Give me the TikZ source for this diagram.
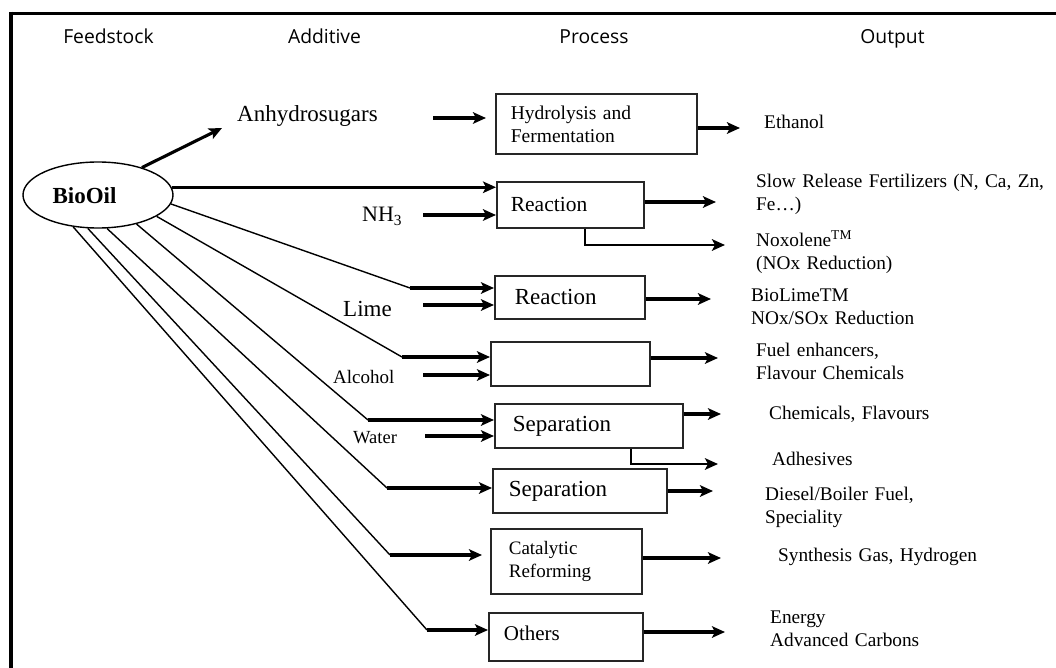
\documentclass[tikz,border=0pt]{standalone}
\usepackage{fontspec}
\setmainfont{Liberation Serif}
\newfontfamily\hdrsans{Open Sans}
\usetikzlibrary{arrows.meta,shapes.geometric}
\tikzset{
  hdr/.style={anchor=base, inner sep=0pt, font=\hdrsans\fontsize{19.3}{23}\selectfont},
  outtxt/.style={anchor=base west, inner sep=0pt, align=left, text width=290pt, font=\fontsize{19.3}{23}\selectfont},
  addtxt/.style={anchor=base west, inner sep=0pt},
  pbox/.style={draw=black!85, line width=1.7pt, anchor=north west, inner ysep=0pt, align=left},
  thinln/.style={line width=1.4pt},
  arr/.style={line width=3.1pt, -{Stealth[length=13pt,width=11.5pt,inset=3pt]}},
  brarr/.style={line width=2.6pt, -{Stealth[length=13pt,width=11.5pt,inset=3pt]}},
}
\begin{document}
\begin{tikzpicture}[x=1pt,y=-1pt]
\useasboundingbox (0,0) rectangle (1056,668);
% frame
\draw[line width=3.8pt] (9,13.5) -- (1056,13.5);
\draw[line width=3.8pt] (11,11.6) -- (11,668);

% headers
\node[hdr] (hfeed) at (108.5,44) {Feedstock};
\node[hdr] (hadd) at (324.5,44) {Additive};
\node[hdr] (hproc) at (594,44) {Process};
\node[hdr] (hout) at (892.5,44) {Output};

% feedstock
\node[ellipse, draw, line width=1.4pt, minimum width=150pt, minimum height=66pt, inner sep=0pt] (bio) at (98,195) {};
\node[anchor=base, inner sep=0pt, font=\bfseries\fontsize{23}{26}\selectfont] (biot) at (84.5,204) {BioOil};

% additives
\node[addtxt, font=\fontsize{23}{26}\selectfont] (anh) at (237,122) {Anhydrosugars};
\node[addtxt, font=\fontsize{22}{25}\selectfont] (nh3) at (362,222) {NH\textsubscript{3}};
\node[addtxt, font=\fontsize{23}{26}\selectfont] (lime) at (343,316) {Lime};
\node[addtxt, font=\fontsize{19}{22}\selectfont] (alc) at (333,383) {Alcohol};
\node[addtxt, font=\fontsize{18.5}{22}\selectfont] (wat) at (353,443) {Water};

% process boxes
\node[pbox, inner xsep=15pt, text width=171pt, minimum height=60pt, font=\fontsize{19.5}{23}\selectfont] (hyd) at (495,93) {Hydrolysis and\\Fermentation};
\node[pbox, inner xsep=14pt, text width=119pt, minimum height=46pt, font=\fontsize{21.5}{24}\selectfont] (r1) at (496,181) {Reaction};
\node[pbox, inner xsep=20pt, text width=110pt, minimum height=43pt, font=\fontsize{23}{26}\selectfont] (r2) at (494,275) {Reaction};
\node[pbox, minimum width=159pt, minimum height=44pt] (blk) at (490,341) {};
\node[pbox, inner xsep=18pt, text width=152pt, minimum height=44pt, font=\fontsize{23}{26}\selectfont] (s1) at (494,403) {Separation};
\node[pbox, inner xsep=16pt, text width=142pt, minimum height=44pt, font=\fontsize{23}{26}\selectfont] (s2) at (492,468) {Separation};
\node[pbox, inner xsep=18pt, text width=115pt, minimum height=65pt, font=\fontsize{19}{23}\selectfont] (cat) at (490,528) {Catalytic\\Reforming};
\node[pbox, inner xsep=15pt, text width=124pt, minimum height=48pt, text depth=8pt, font=\fontsize{21}{24}\selectfont] (oth) at (488,612) {Others};

% outputs
\node[outtxt] (t1) at (764,129) {Ethanol};
\node[outtxt] (t2) at (756,188) {Slow Release Fertilizers (N, Ca, Zn,\\Fe…)};
\node[outtxt] (t2b) at (756,247) {Noxolene\textsuperscript{TM}\\(NOx Reduction)};
\node[outtxt] (t3) at (751,301) {BioLimeTM\\NOx/SOx Reduction};
\node[outtxt] (t4) at (756,356) {Fuel enhancers,\\Flavour Chemicals};
\node[outtxt] (t5) at (769,419) {Chemicals, Flavours};
\node[outtxt] (t5b) at (772,465) {Adhesives};
\node[outtxt] (t6) at (765,500) {Diesel/Boiler Fuel,\\Speciality};
\node[outtxt] (t7) at (778,561) {Synthesis Gas, Hydrogen};
\node[outtxt] (t8) at (770,623) {Energy\\Advanced Carbons};

% BioOil -> Anhydrosugars
\coordinate (anhtip) at (222,128);
\draw[arr] (bio.32) -- (anhtip);
% BioOil -> Reaction 1
\draw[arr] (bio.6) -- (bio.6 -| r1.west);

% fan lines from BioOil
\coordinate (k2) at (410,288);
\coordinate (k3) at (402,357);
\coordinate (k4) at (368,420);
\coordinate (k5) at (387,488);
\coordinate (k6) at (390,555);
\coordinate (k7) at (427,630);
\draw[thinln] (bio.-7) -- (k2);
\draw[thinln] (bio.-20) -- (k3);
\draw[thinln] (bio.-37) -- (k4);
\draw[thinln] (bio.-75) -- (k5);
\draw[thinln] (bio.-107) -- (k6);
\draw[thinln] (bio.-128) -- (k7);
\draw[arr] (k2) -- (k2 -| r2.west);
\draw[arr] (k3) -- (k3 -| blk.west);
\draw[arr] (k4) -- (k4 -| s1.west);
\draw[arr] (k5) -- (k5 -| s2.west);
\draw[arr, shorten >=8pt] (k6) -- (k6 -| cat.west);
\draw[arr] (k7) -- (k7 -| oth.west);

% additive arrows
\coordinate (a1) at (433,118);
\coordinate (a2) at (423,215);
\coordinate (a3) at (423,305);
\coordinate (a4) at (423,375);
\coordinate (a5) at (425,436);
\draw[arr, shorten >=9pt] (a1) -- (a1 -| hyd.west);
\draw[arr] (a2) -- (a2 -| r1.west);
\draw[arr] (a3) -- (a3 -| r2.west);
\draw[arr] (a4) -- (a4 -| blk.west);
\draw[arr] (a5) -- (a5 -| s1.west);

% output arrows
\coordinate (o1) at (740,128);
\coordinate (o2) at (716,202);
\coordinate (c2) at (585,245);
\coordinate (o2b) at (725,245);
\coordinate (o3) at (711,299);
\coordinate (o4) at (718,358);
\coordinate (o5) at (721,414);
\coordinate (c5) at (631,464);
\coordinate (o5b) at (718,464);
\coordinate (o6) at (713,491);
\coordinate (o7) at (721,558);
\coordinate (o8) at (725,632);
\draw[arr] (o1 -| hyd.east) -- (o1);
\draw[arr] (o2 -| r1.east) -- (o2);
\draw[brarr] (c2 |- r1.south) -- (c2) -- (o2b);
\draw[arr] (o3 -| r2.east) -- (o3);
\draw[arr] (o4 -| blk.east) -- (o4);
\draw[arr] (o5 -| s1.east) -- (o5);
\draw[brarr] (c5 |- s1.south) -- (c5) -- (o5b);
\draw[arr] (o6 -| s2.east) -- (o6);
\draw[arr] (o7 -| cat.east) -- (o7);
\draw[arr] (o8 -| oth.east) -- (o8);
\end{tikzpicture}
\end{document}
